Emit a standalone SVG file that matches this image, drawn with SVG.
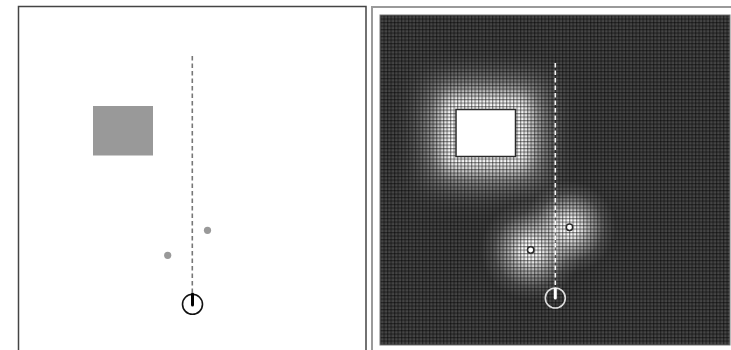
<svg xmlns="http://www.w3.org/2000/svg" width="731" height="350" viewBox="0 0 731 350">
<defs>
<style>
.frameL{fill:none;stroke:#444;stroke-width:1.5}
.frameR{fill:none;stroke:#9a9a9a;stroke-width:2}
.dashL{stroke:#777;stroke-width:1.6;stroke-dasharray:4.5 3;fill:none}
.dashR{stroke:#f4f4f4;stroke-width:1.6;stroke-dasharray:4.5 3;fill:none}
.obsL{fill:#999}
.obsR{fill:#fff;stroke:#2a2a2a;stroke-width:1.5}
</style>
<radialGradient id="glow">
<stop offset="0" stop-color="#fff" stop-opacity="1"/>
<stop offset="0.18" stop-color="#fff" stop-opacity="0.97"/>
<stop offset="0.45" stop-color="#fff" stop-opacity="0.55"/>
<stop offset="0.75" stop-color="#fff" stop-opacity="0.15"/>
<stop offset="1" stop-color="#fff" stop-opacity="0"/>
</radialGradient>
<filter id="blur" x="-100%" y="-100%" width="300%" height="300%">
<feGaussianBlur stdDeviation="17"/>
</filter>
<filter id="blur2" x="-100%" y="-100%" width="300%" height="300%">
<feGaussianBlur stdDeviation="7"/>
</filter>
<pattern id="grid" width="3.5" height="3.5" patternUnits="userSpaceOnUse" x="380" y="15">
<rect x="0" y="0" width="3.5" height="1.2" fill="#000" fill-opacity="0.45"/>
<rect x="0" y="0" width="1.2" height="3.5" fill="#000" fill-opacity="0.45"/>
</pattern>
<clipPath id="clipR"><rect x="380" y="15" width="350" height="330"/></clipPath>
</defs>

<g id="left-panel">
<path class="frameL" d="M18.5,351 V6.5 H366 V351"/>
<rect id="obstacle-L" class="obsL" x="93" y="106" width="60" height="49.5"/>
<circle id="dot-L1" class="obsL" cx="207.5" cy="230.3" r="3.6"/>
<circle id="dot-L2" class="obsL" cx="167.7" cy="255.3" r="3.6"/>
<g id="robot-L">
<circle cx="192.5" cy="304.3" r="10" fill="none" stroke="#111" stroke-width="1.6"/>
<line x1="192.5" y1="294" x2="192.5" y2="305" stroke="#000" stroke-width="3" stroke-linecap="round"/>
</g>
</g>

<g id="right-panel">
<path class="frameR" d="M372,351 V7 H731"/>
<g clip-path="url(#clipR)">
<rect x="380" y="15" width="350" height="330" fill="#454545"/>
<rect x="432" y="86" width="108" height="93" fill="#fff" fill-opacity="0.85" filter="url(#blur)"/>
<rect x="444" y="97" width="84" height="71" fill="#fff" filter="url(#blur2)"/>
<circle cx="569.5" cy="227.3" r="46" fill="url(#glow)"/>
<circle cx="530.7" cy="250" r="50" fill="url(#glow)"/>
<rect x="380" y="15" width="350" height="330" fill="url(#grid)"/>
</g>
<rect x="380" y="15" width="350" height="330" fill="none" stroke="#777" stroke-width="1"/>
<rect id="obstacle-R" class="obsR" x="456" y="109.5" width="59.5" height="47"/>
<circle id="dot-R1" class="obsR" cx="569.5" cy="227.3" r="3.2"/>
<circle id="dot-R2" class="obsR" cx="530.7" cy="250" r="3.2"/>
<g id="robot-R">
<circle cx="555.3" cy="298" r="10" fill="none" stroke="#ddd" stroke-width="1.6"/>
<line x1="555.3" y1="289" x2="555.3" y2="298" stroke="#fff" stroke-width="3" stroke-linecap="round"/>
</g>
</g>

<g id="connectors">
<line class="dashL" x1="192.3" y1="56" x2="192.3" y2="294"/>
<line class="dashR" x1="555.3" y1="63" x2="555.3" y2="289"/>
</g>
</svg>
